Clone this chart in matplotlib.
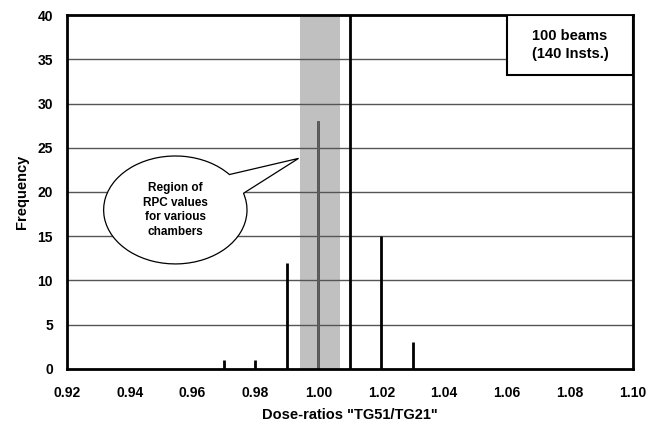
import matplotlib
matplotlib.use('Agg')
import matplotlib.pyplot as plt
from matplotlib.path import Path
from matplotlib.patches import PathPatch
import numpy as np

plt.rcParams['font.family'] = ['Liberation Sans', 'DejaVu Sans']

# Histogram of dose ratios
ratios = [0.97, 0.98, 0.99, 1.00, 1.01, 1.02, 1.03]
counts = [1, 1, 12, 28, 40, 15, 3]

# Region of RPC values for various chambers
rpc_low = 0.994
rpc_high = 1.007

x_ticks = [0.92, 0.94, 0.96, 0.98, 1.00, 1.02, 1.04, 1.06, 1.08, 1.10]
y_ticks = [0, 5, 10, 15, 20, 25, 30, 35, 40]

fig = plt.figure(figsize=(6.49, 4.30), dpi=100)
ax = fig.add_axes([0.103, 0.142, 0.872, 0.823])

ax.axvspan(rpc_low, rpc_high, color='#c0c0c0', zorder=1, lw=0)
for y in y_ticks[1:-1]:
    ax.axhline(y, color='#555555', lw=1.0, zorder=2)

ax.vlines(ratios, 0, counts, colors='black', lw=2.0, zorder=3)
# bar inside the shaded region looks lighter
ax.vlines([ratios[3]], 0, [counts[3]], colors='#606060', lw=2.0, zorder=3)

ax.set_xlim(0.92, 1.10)
ax.set_ylim(0, 40)
ax.set_xticks(x_ticks)
ax.set_xticklabels(['%.2f' % v for v in x_ticks])
ax.set_yticks(y_ticks)
ax.tick_params(length=0, labelsize=10)
ax.tick_params(axis='x', pad=12)
ax.tick_params(axis='y', pad=10)
for lab in ax.get_xticklabels() + ax.get_yticklabels():
    lab.set_fontweight('bold')
for s in ax.spines.values():
    s.set_linewidth(2.0)
    s.set_zorder(5)

ax.set_xlabel('Dose-ratios "TG51/TG21"', fontsize=10.5, fontweight='bold', labelpad=6)
ax.set_ylabel('Frequency', fontsize=10.5, fontweight='bold', labelpad=6)

# top-right info box
ax.text(0.889, 0.915, '100 beams\n(140 Insts.)', transform=ax.transAxes,
        ha='center', va='center', fontsize=10.5, fontweight='bold', zorder=7,
        linespacing=1.3)
box = plt.Rectangle((0.778, 0.83), 0.222, 0.17, transform=ax.transAxes,
                    facecolor='white', edgecolor='black', lw=1.5, zorder=6)
ax.add_patch(box)

# speech bubble callout
cx, cy = 0.9545, 17.97
rx, ry = 0.0228, 6.1
tip = (0.9937, 23.8)
arc = Path.arc(41, 378)
verts = arc.vertices * np.array([rx, ry]) + np.array([cx, cy])
codes = list(arc.codes)
verts = np.vstack([verts, [tip], [verts[0]]])
codes = codes + [Path.LINETO, Path.CLOSEPOLY]
bubble = PathPatch(Path(verts, codes), facecolor='white', edgecolor='black',
                   lw=0.9, zorder=6)
ax.add_patch(bubble)
ax.text(cx, cy, 'Region of\nRPC values\nfor various\nchambers', ha='center',
        va='center', fontsize=8.5, fontweight='bold', zorder=7, linespacing=1.3)

fig.savefig('out.png', dpi=100)
